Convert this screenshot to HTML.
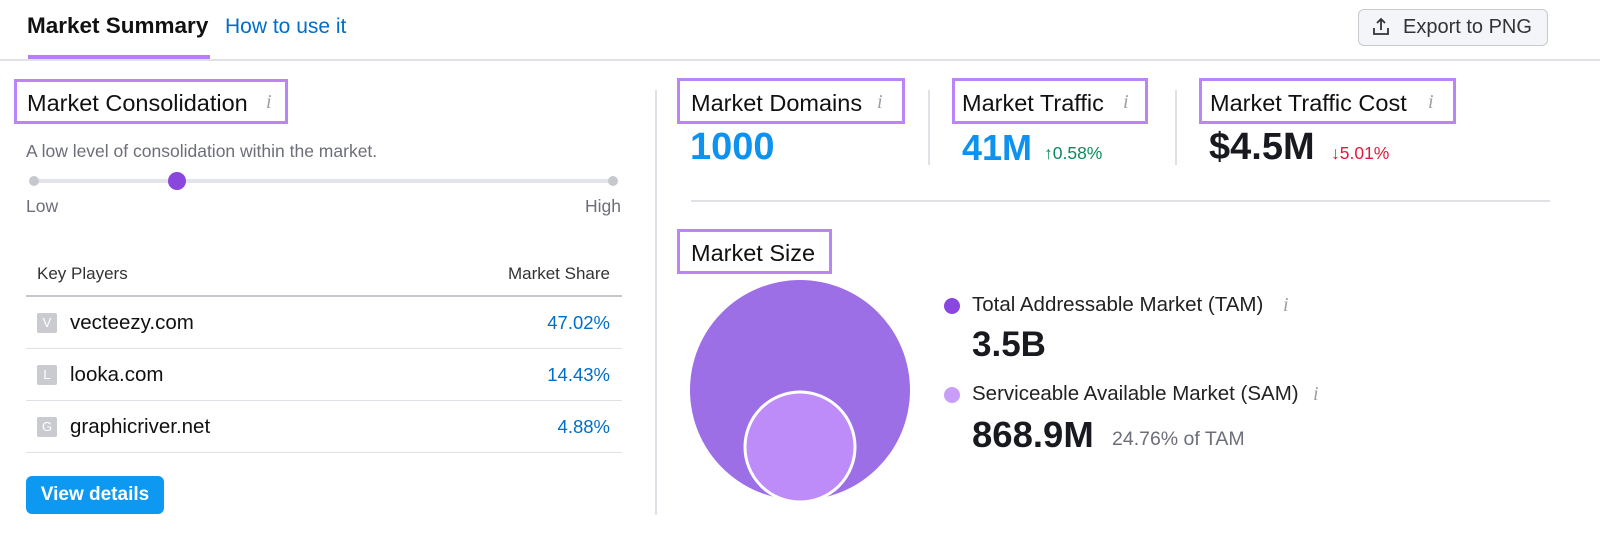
<!DOCTYPE html><html><head><style>
body{margin:0;width:1600px;height:545px;background:#fff;font-family:"Liberation Sans",sans-serif;position:relative;overflow:hidden;color:#181a1f}
div,span{position:absolute;white-space:nowrap}
.box{border:3px solid #b985f7;box-sizing:border-box}
.h{font-size:23.5px;color:#111}
.i{color:#9aa0a6;font-family:"Liberation Serif",serif;font-style:italic;font-size:20px}
.g{color:#6c6e79}
.line{background:#e0e1e6}
.fav{width:20px;height:20px;background:#c9cbd1;color:#fff;font-size:13px;text-align:center;line-height:20px;border-radius:2px}
.dom{font-size:20.5px;color:#111}
.pct{font-size:18.5px;color:#006dca;right:990px}
</style></head><body>
<div style="left:27px;top:13px;font-size:22.5px;font-weight:bold;color:#111">Market Summary</div>
<div style="left:225px;top:15px;font-size:21px;color:#006dca">How to use it</div>
<div style="left:28px;top:55px;width:182px;height:4px;background:#b77ef7"></div>
<div class="line" style="left:0;top:59px;width:1600px;height:2px"></div>
<div style="left:1358px;top:9px;width:190px;height:37px;border:1px solid #c8cad0;border-radius:6px;background:#f4f5f9;box-sizing:border-box"></div>
<svg style="position:absolute;left:1371px;top:17px" width="20" height="20"><path d="M10 2v11M6 6l4-4 4 4M3 11v6h14v-6" stroke="#333" stroke-width="1.8" fill="none"/></svg>
<div style="left:1403px;top:16px;font-size:20px;color:#333">Export to PNG</div>

<div class="box" style="left:14px;top:79px;width:274px;height:45px"></div>
<div class="h" style="left:27px;top:90px">Market Consolidation</div><div class="i" style="left:266px;top:91px">i</div>
<div class="g" style="left:26px;top:141px;font-size:17.5px">A low level of consolidation within the market.</div>
<div style="left:34px;top:179px;width:579px;height:4px;background:#e3e4e9;border-radius:2px"></div>
<div style="left:29px;top:176px;width:10px;height:10px;border-radius:50%;background:#c6c8cf"></div>
<div style="left:608px;top:176px;width:10px;height:10px;border-radius:50%;background:#c6c8cf"></div>
<div style="left:168px;top:172px;width:18px;height:18px;border-radius:50%;background:#8b46dd"></div>
<div class="g" style="left:26px;top:196px;font-size:17.5px">Low</div>
<div class="g" style="right:979px;top:196px;font-size:17.5px">High</div>
<div style="left:37px;top:264px;font-size:17px;color:#333">Key Players</div>
<div style="right:990px;top:264px;font-size:17px;color:#333">Market Share</div>
<div style="left:26px;top:295px;width:596px;height:2px;background:#c5c7cd"></div>
<div class="fav" style="left:37px;top:313px">V</div><div class="dom" style="left:70px;top:311px">vecteezy.com</div><div class="pct" style="top:312px">47.02%</div>
<div class="line" style="left:26px;top:348px;width:596px;height:1px"></div>
<div class="fav" style="left:37px;top:365px">L</div><div class="dom" style="left:70px;top:363px">looka.com</div><div class="pct" style="top:364px">14.43%</div>
<div class="line" style="left:26px;top:400px;width:596px;height:1px"></div>
<div class="fav" style="left:37px;top:417px">G</div><div class="dom" style="left:70px;top:415px">graphicriver.net</div><div class="pct" style="top:416px">4.88%</div>
<div class="line" style="left:26px;top:452px;width:596px;height:1px"></div>
<div style="left:26px;top:476px;width:138px;height:38px;background:#0d99f2;border-radius:6px;color:#fff;font-weight:bold;font-size:19px;text-align:center;line-height:38px">View details</div>

<div class="line" style="left:655px;top:90px;width:2px;height:425px"></div>
<div class="box" style="left:677px;top:78px;width:228px;height:46px"></div>
<div class="h" style="left:691px;top:90px">Market Domains</div><div class="i" style="left:877px;top:91px">i</div>
<div style="left:690px;top:126px;font-size:38px;font-weight:bold;color:#0d92ef">1000</div>
<div class="line" style="left:928px;top:90px;width:2px;height:75px"></div>
<div class="box" style="left:952px;top:78px;width:196px;height:46px"></div>
<div class="h" style="left:962px;top:90px">Market Traffic</div><div class="i" style="left:1123px;top:91px">i</div>
<div style="left:962px;top:127px;font-size:36px;font-weight:bold;color:#0d92ef">41M</div>
<div style="left:1044px;top:143px;font-size:17.5px;color:#0c8a5a">↑0.58%</div>
<div class="line" style="left:1175px;top:90px;width:2px;height:75px"></div>
<div class="box" style="left:1199px;top:78px;width:257px;height:46px"></div>
<div class="h" style="left:1210px;top:90px">Market Traffic Cost</div><div class="i" style="left:1428px;top:91px">i</div>
<div style="left:1209px;top:126px;font-size:38px;font-weight:bold;color:#181a1f">$4.5M</div>
<div style="left:1331px;top:143px;font-size:17.5px;color:#e5183b">↓5.01%</div>
<div class="line" style="left:691px;top:200px;width:859px;height:2px"></div>
<div class="box" style="left:677px;top:229px;width:155px;height:45px"></div>
<div class="h" style="left:691px;top:240px">Market Size</div>
<svg style="position:absolute;left:680px;top:270px" width="240" height="240"><circle cx="120" cy="120" r="110" fill="#9d6fe7"/><circle cx="120" cy="177" r="55" fill="#bd8cf8" stroke="#fff" stroke-width="3"/></svg>
<div style="left:944px;top:298px;width:16px;height:16px;border-radius:50%;background:#8a47e0"></div>
<div style="left:972px;top:293px;font-size:20.5px;color:#222">Total Addressable Market (TAM)</div><div class="i" style="left:1283px;top:294px">i</div>
<div style="left:972px;top:325px;font-size:35px;font-weight:bold">3.5B</div>
<div style="left:944px;top:387px;width:16px;height:16px;border-radius:50%;background:#c99ef9"></div>
<div style="left:972px;top:382px;font-size:20.5px;color:#222">Serviceable Available Market (SAM)</div><div class="i" style="left:1313px;top:383px">i</div>
<div style="left:972px;top:414px;font-size:36.5px;font-weight:bold">868.9M</div>
<div class="g" style="left:1112px;top:428px;font-size:19.5px">24.76% of TAM</div>
</body></html>
